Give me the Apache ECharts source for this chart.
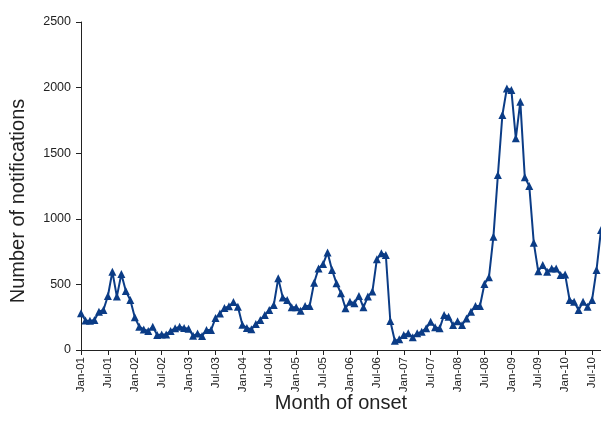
<!DOCTYPE html>
<html>
<head>
<meta charset="utf-8">
<script src="https://cdn.jsdelivr.net/npm/echarts@6/dist/echarts.min.js"></script>
<style>
html,body{margin:0;padding:0;background:#fff;}
#c{width:601px;height:437px;}
</style>
</head>
<body>
<div id="c"></div>
<script>
// Monthly notifications, Jan-2001 onwards
const startYear = 2001;
const monthNames = ['Jan','Feb','Mar','Apr','May','Jun','Jul','Aug','Sep','Oct','Nov','Dec'];
const values2001 = [280, 225, 222, 228, 292, 305, 412, 597, 407, 579, 450, 381];
const values2002 = [249, 178, 157, 145, 178, 114, 119, 119, 145, 165, 178, 168];
const values2003 = [162, 108, 125, 107, 152, 152, 243, 279, 320, 333, 365, 330];
const values2004 = [192, 168, 158, 198, 229, 267, 305, 343, 546, 401, 381, 325];
const values2005 = [325, 300, 335, 335, 513, 622, 655, 744, 610, 508, 432, 318];
const values2006 = [368, 356, 412, 325, 407, 445, 691, 737, 724, 221, 71, 81];
const values2007 = [114, 127, 97, 127, 140, 165, 216, 173, 165, 267, 254, 190];
const values2008 = [220, 191, 241, 292, 335, 335, 503, 554, 864, 1334, 1791, 1994];
const values2009 = [1982, 1613, 1893, 1316, 1250, 818, 600, 648, 597, 622, 622, 572];
const values2010 = [575, 381, 368, 305, 368, 330, 381, 610, 915];
const yTicks = [0, 500, 1000, 1500, 2000, 2500];

const seriesValues = [].concat(values2001, values2002, values2003, values2004, values2005,
  values2006, values2007, values2008, values2009, values2010);
const categories = seriesValues.map((v, i) =>
  monthNames[i % 12] + '-' + String((startYear + Math.floor(i / 12)) % 100).padStart(2, '0'));

const chart = echarts.init(document.getElementById('c'), null, {renderer: 'canvas'});
const FONT = 'Liberation Sans, Arial, sans-serif';
chart.setOption({
  animation: false,
  backgroundColor: '#ffffff',
  grid: {left: 81, right: -1, top: 22, bottom: 87, containLabel: false},
  xAxis: {
    type: 'category',
    data: categories,
    boundaryGap: false,
    name: 'Month of onset',
    nameLocation: 'middle',
    nameGap: 43,
    nameMoveOverlap: false,
    nameTextStyle: {fontFamily: FONT, fontSize: 20, color: '#222'},
    axisLine: {lineStyle: {color: '#222', width: 1}},
    axisTick: {show: true, interval: 5, length: 5, lineStyle: {color: '#222'}},
    axisLabel: {interval: 5, rotate: 90, fontFamily: FONT, fontSize: 11.5, color: '#222', margin: 7},
    splitLine: {show: false}
  },
  yAxis: {
    type: 'value',
    min: yTicks[0],
    max: yTicks[yTicks.length - 1],
    interval: 500,
    name: 'Number of notifications',
    nameLocation: 'middle',
    nameGap: 53,
    nameMoveOverlap: false,
    nameTextStyle: {fontFamily: FONT, fontSize: 20, color: '#222', padding: [0, 30, 0, 0]},
    axisLine: {show: true, lineStyle: {color: '#222', width: 1}},
    axisTick: {show: true, length: 5, lineStyle: {color: '#222'}},
    axisLabel: {fontFamily: FONT, fontSize: 12.5, color: '#222', margin: 10,
      formatter: v => String(v)},
    splitLine: {show: false}
  },
  series: [{
    type: 'line',
    data: seriesValues,
    symbol: 'triangle',
    symbolSize: 8,
    showAllSymbol: true,
    lineStyle: {color: '#0b3c86', width: 2},
    itemStyle: {color: '#0b3c86'},
    clip: false
  }]
});
</script>
</body>
</html>
